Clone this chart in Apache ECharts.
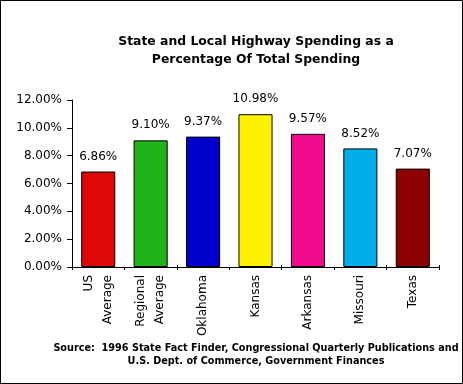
<!DOCTYPE html>
<html><head><meta charset="utf-8">
<script src="https://cdn.jsdelivr.net/npm/echarts@6/dist/echarts.min.js"></script>
<style>html,body{margin:0;padding:0;background:#fff}#c{width:463px;height:384px}</style>
</head><body><div id="c"></div>
<script>
const categories = ['US\nAverage', 'Regional\nAverage', 'Oklahoma', 'Kansas', 'Arkansas', 'Missouri', 'Texas'];
const values = [6.86, 9.10, 9.37, 10.98, 9.57, 8.52, 7.07];
const barColors = ['#DD0808', '#22B21A', '#0000CC', '#FFF200', '#F00A8C', '#00AEEA', '#8B0000'];
const titleLines = ['State and Local Highway Spending as a', 'Percentage Of Total Spending'];
const sourceLines = ['Source:  1996 State Fact Finder, Congressional Quarterly Publications and', 'U.S. Dept. of Commerce, Government Finances'];

const chart = echarts.init(document.getElementById('c'), null, {renderer: 'canvas'});
const font = '"DejaVu Sans", sans-serif';
chart.setOption({
  animation: false,
  backgroundColor: '#fff',
  title: [{
    text: titleLines.join('\n'),
    left: 251, top: 28, textAlign: 'center',
    textStyle: {fontFamily: font, fontSize: 12.4, fontWeight: 'bold', color: '#000', lineHeight: 18}
  }, {
    text: sourceLines.join('\n'),
    left: 251, top: 337, textAlign: 'center',
    textStyle: {fontFamily: font, fontSize: 9.7, fontWeight: 'bold', color: '#000', lineHeight: 13}
  }],
  graphic: [{
    type: 'rect', shape: {x: 0.5, y: 0.5, width: 462, height: 383},
    style: {fill: 'none', stroke: '#000', lineWidth: 1}, z: 100
  }],
  grid: {left: 72, right: 24, top: 100, bottom: 117, containLabel: false},
  xAxis: [{
    type: 'category', data: categories,
    axisLine: {lineStyle: {color: '#000', width: 1}},
    axisTick: {show: true, length: 3, lineStyle: {color: '#000'}},
    axisLabel: {rotate: 90, margin: 8, fontFamily: font, fontSize: 12, color: '#000', lineHeight: 19, interval: 0}
  }, {
    type: 'category', data: categories, position: 'bottom',
    axisLine: {show: false},
    axisTick: {show: true, inside: true, length: 2, lineStyle: {color: '#000'}},
    axisLabel: {show: false}
  }],
  yAxis: {
    type: 'value', min: 0, max: 12, interval: 2,
    splitLine: {show: false},
    axisLine: {show: true, lineStyle: {color: '#000', width: 1}},
    axisTick: {show: true, length: 5, lineStyle: {color: '#000'}},
    axisLabel: {fontFamily: font, fontSize: 12, color: '#000', margin: 10,
      formatter: v => v.toFixed(2) + '%'}
  },
  series: [{
    type: 'bar', barCategoryGap: '35%', xAxisIndex: 0,
    data: values.map((v, i) => ({value: v, itemStyle: {color: barColors[i]}})),
    itemStyle: {borderColor: '#000', borderWidth: 1},
    label: {show: true, position: 'top', distance: 9, fontFamily: font, fontSize: 12, color: '#000',
      formatter: p => p.value.toFixed(2) + '%'}
  }]
});
</script></body></html>
